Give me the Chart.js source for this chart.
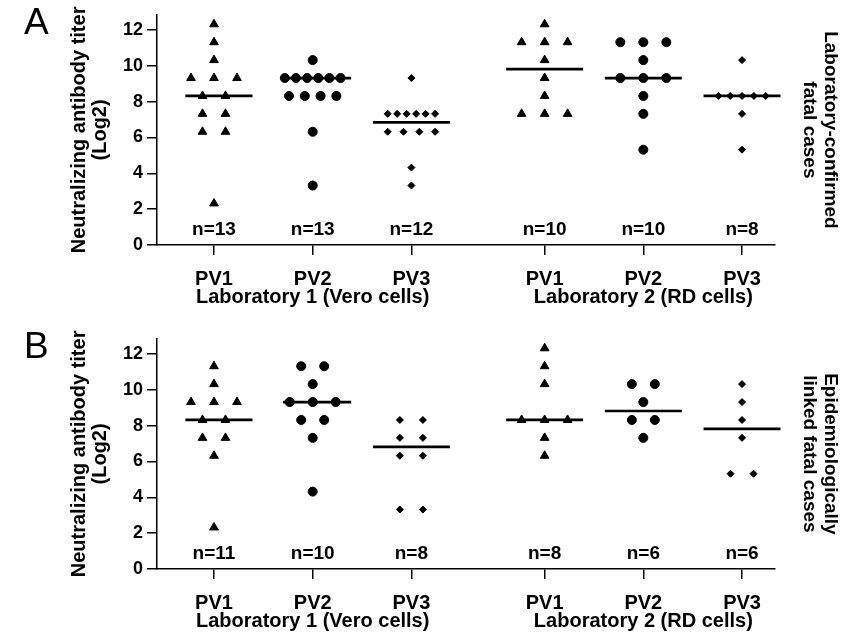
<!DOCTYPE html>
<html>
<head>
<meta charset="utf-8">
<script src="https://cdn.jsdelivr.net/npm/chart.js@4.4.0/dist/chart.umd.min.js"></script>
<style>
  html, body { margin: 0; padding: 0; background: #fff; overflow: hidden; }
  body { width: 856px; height: 636px; position: relative; font-family: "Liberation Sans", Arial, sans-serif; }
  canvas { position: absolute; left: 0; }
  #cA { top: 0; }
  #cB { top: 324px; }
  .tag { position: absolute; left: 24px; font-size: 37px; line-height: 1; color: #000; }
</style>
</head>
<body>
<canvas id="cA" width="856" height="324"></canvas>
<canvas id="cB" width="856" height="324"></canvas>
<div class="tag" style="top:3px">A</div>
<div class="tag" style="top:327px">B</div>
<script>
// DATA (log2 titers)
const viruses = ['PV1', 'PV2', 'PV3', 'PV1', 'PV2', 'PV3'];
const labs = ['Laboratory 1 (Vero cells)', 'Laboratory 2 (RD cells)'];
const yTicks = [0, 2, 4, 6, 8, 10, 12];

// panel A - laboratory-confirmed fatal cases
const aLab1PV1 = [12.32, 11.32, 10.32, 9.32, 9.32, 9.32, 8.32, 8.32, 7.32, 7.32, 6.32, 6.32, 2.32];
const aLab1PV2 = [10.32, 9.32, 9.32, 9.32, 9.32, 9.32, 9.32, 8.32, 8.32, 8.32, 8.32, 6.32, 3.32];
const aLab1PV3 = [9.32, 7.32, 7.32, 7.32, 7.32, 7.32, 7.32, 6.32, 6.32, 6.32, 6.32, 4.32, 3.32];
const aLab2PV1 = [12.32, 11.32, 11.32, 11.32, 10.32, 9.32, 8.32, 7.32, 7.32, 7.32];
const aLab2PV2 = [11.32, 11.32, 11.32, 10.32, 9.32, 9.32, 9.32, 8.32, 7.32, 5.32];
const aLab2PV3 = [10.32, 8.32, 8.32, 8.32, 8.32, 8.32, 7.32, 5.32];
const aCounts = [13, 13, 12, 10, 10, 8];
const aMedians = [8.32, 9.32, 6.84, 9.82, 9.32, 8.32];

// panel B - epidemiologically linked fatal cases
const bLab1PV1 = [11.32, 10.32, 9.32, 9.32, 9.32, 8.32, 8.32, 7.32, 7.32, 6.32, 2.32];
const bLab1PV2 = [11.32, 11.32, 10.32, 9.32, 9.32, 9.32, 8.32, 8.32, 7.32, 4.32];
const bLab1PV3 = [8.32, 8.32, 7.32, 7.32, 6.32, 6.32, 3.32, 3.32];
const bLab2PV1 = [12.32, 11.32, 10.32, 8.32, 8.32, 8.32, 7.32, 6.32];
const bLab2PV2 = [10.32, 10.32, 9.32, 8.32, 8.32, 7.32];
const bLab2PV3 = [10.32, 9.32, 8.32, 7.32, 5.32, 5.32];
const bCounts = [11, 10, 8, 8, 6, 6];
const bMedians = [8.32, 9.32, 6.82, 8.32, 8.82, 7.82];

// LAYOUT
const family = '"Liberation Sans", Arial, sans-serif';
const slots = viruses.map((_, i) => i + 1 + (i > 2 ? 0.35 : 0));
const shapes = ['triangle', 'circle', 'rectRot'];
const radius = { triangle: 5, circle: 4.5, rectRot: 3.5 };
const minGap = { triangle: 0.1, circle: 0.113, rectRot: 0.094 };
const lineLeft = [0.29, 0.3, 0.39, 0.39, 0.39, 0.39];
const lineRight = 0.39;

// spread equal values sideways like a dot plot
function dots(values, x0, gap) {
  const count = {}, seen = {};
  values.forEach(v => count[v] = (count[v] || 0) + 1);
  return values.map(v => {
    const k = count[v];
    const j = seen[v] = seen[v] === undefined ? 0 : seen[v] + 1;
    const step = k > 1 ? Math.max(gap, Math.min(0.233, 0.48 / (k - 1))) : 0;
    return { x: x0 + (j - (k - 1) / 2) * step, y: v };
  });
}

const nLabels = {
  id: 'nLabels',
  afterDatasetsDraw(chart, args, opts) {
    const { ctx, scales: { x, y } } = chart;
    ctx.save();
    ctx.font = 'bold 19px ' + family;
    ctx.fillStyle = '#000';
    ctx.textAlign = 'center';
    ctx.textBaseline = 'middle';
    opts.counts.forEach((n, i) => {
      ctx.fillText('n=' + n, x.getPixelForValue(slots[i]), y.getPixelForValue(0.86));
    });
    ctx.restore();
  }
};

function makeChart(id, groups, counts, medians, sideTitle) {
  const datasets = [];
  groups.forEach((vals, i) => {
    const shape = shapes[i % 3];
    datasets.push({
      data: dots(vals, slots[i], minGap[shape]),
      pointStyle: shape,
      pointRadius: radius[shape],
      pointBackgroundColor: '#000',
      pointBorderColor: '#000',
      pointBorderWidth: 1,
      clip: false
    });
    datasets.push({
      data: [{ x: slots[i] - lineLeft[i], y: medians[i] }, { x: slots[i] + lineRight, y: medians[i] }],
      showLine: true,
      borderColor: '#000',
      borderWidth: 2.7,
      pointRadius: 0,
      clip: false
    });
  });

  const axisGrid = { drawOnChartArea: false, tickLength: 10, color: '#000', lineWidth: 1.5 };
  const axisBorder = { color: '#000', width: 1.5 };

  return new Chart(document.getElementById(id), {
    type: 'scatter',
    data: { datasets },
    plugins: [nLabels],
    options: {
      responsive: false,
      animation: false,
      events: [],
      layout: { padding: { top: 7, left: 0, right: 0, bottom: 0 } },
      plugins: {
        legend: { display: false },
        tooltip: { enabled: false },
        nLabels: { counts }
      },
      scales: {
        x: {
          type: 'linear',
          min: 0.4225,
          max: 6.684,
          afterBuildTicks: s => { s.ticks = slots.map(v => ({ value: v })); },
          afterFit: s => { s.height = 79; },
          grid: axisGrid,
          border: axisBorder,
          ticks: {
            autoSkip: false,
            maxRotation: 0,
            padding: 15,
            color: '#000',
            font: { family, size: 20, weight: 'bold', lineHeight: 0.92 },
            callback: (v, i) => i === 1 ? [viruses[i], labs[0]] : i === 4 ? [viruses[i], labs[1]] : viruses[i]
          }
        },
        y: {
          min: 0,
          max: 12.85,
          afterBuildTicks: s => { s.ticks = yTicks.map(v => ({ value: v })); },
          afterFit: s => { s.width = 157; },
          grid: axisGrid,
          border: axisBorder,
          ticks: { padding: 4, color: '#000', font: { family, size: 18, weight: 'bold' } },
          title: {
            display: true,
            text: ['Neutralizing antibody titer', '(Log2)'],
            color: '#000',
            font: { family, size: 20, weight: 'bold', lineHeight: 1.05 },
            padding: { top: 69, bottom: 0 }
          }
        },
        side: {
          position: 'right',
          afterFit: s => { s.width = 81; },
          grid: { display: false },
          border: { display: false },
          ticks: { display: false },
          title: {
            display: true,
            text: sideTitle,
            color: '#000',
            font: { family, size: 19, weight: 'bold', lineHeight: 1.1 },
            padding: { top: 15, bottom: 0 }
          }
        }
      }
    }
  });
}

makeChart('cA', [aLab1PV1, aLab1PV2, aLab1PV3, aLab2PV1, aLab2PV2, aLab2PV3], aCounts, aMedians,
  ['Laboratory-confirmed', 'fatal cases']);
makeChart('cB', [bLab1PV1, bLab1PV2, bLab1PV3, bLab2PV1, bLab2PV2, bLab2PV3], bCounts, bMedians,
  ['Epidemiologically', 'linked fatal cases']);
</script>
</body>
</html>
